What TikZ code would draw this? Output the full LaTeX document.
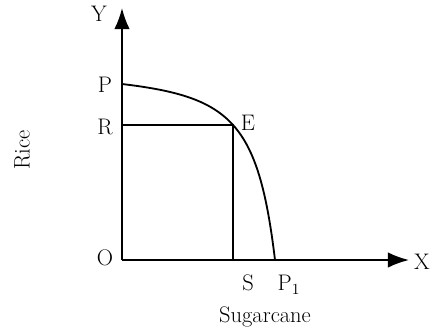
\documentclass[tikz,border=0pt]{standalone}
\usetikzlibrary{arrows.meta}
\begin{document}
\begin{tikzpicture}[x=0.025cm, y=0.025cm, line width=1.3pt,
        lbl/.style={font=\fontsize{16}{19}\selectfont, inner sep=1pt},
        axis/.style={-{Latex[length=15pt,width=11pt]}}]
        \useasboundingbox (-122,-70) rectangle (309,260);

        % Points on the axes
        \coordinate (O) at (0,0);
        \coordinate (P) at (0,176);
        \coordinate (R) at (0,135);
        \coordinate (E) at (111,135);
        \coordinate (S) at (111,0);
        \coordinate (P1) at (153,0);
        \coordinate (Ytip) at (0,252);
        \coordinate (Xtip) at (287,0);

        % Axes
        \draw[axis] (O) -- (Ytip);
        \draw[axis] (O) -- (Xtip);

        % Production possibility curve (passes through E)
        \draw (P) .. controls (108.6,163) and (136.4,138.4) .. (P1);

        % Lines from E to the axes
        \draw (R) -- (E) -- (S);

        % Labels
        \node[lbl] (ylab) at (-23,246) {Y};
        \node[lbl] (xlab) at (300,-2) {X};
        \node[lbl] (plab) at (-17,175) {P};
        \node[lbl] (rlab) at (-17,133) {R};
        \node[lbl] (elab) at (126,137) {E};
        \node[lbl] (olab) at (-17,2) {O};
        \node[lbl] (slab) at (126,-23) {S};
        \node[lbl] (p1lab) at (167,-25) {P$_1$};
        \node[lbl] (sugar) at (143,-57) {Sugarcane};
        \node[lbl, rotate=90] (rice) at (-100,110) {Rice};
\end{tikzpicture}
\end{document}
